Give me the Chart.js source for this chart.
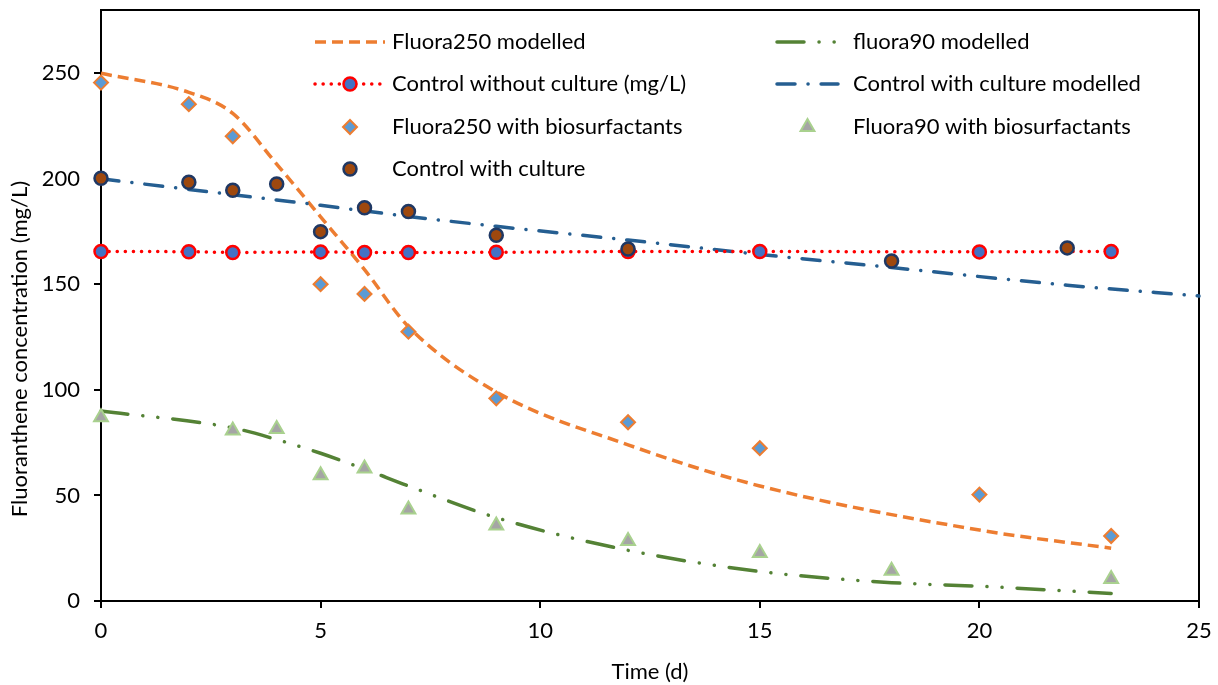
<!DOCTYPE html>
<html>
<head>
<meta charset="utf-8">
<script src="https://cdn.jsdelivr.net/npm/chart.js@4.4.1/dist/chart.umd.min.js"></script>
<style>
html, body { margin: 0; padding: 0; background: #fff; }
</style>
</head>
<body>
<canvas id="fluoChart" width="1218" height="685"></canvas>
<script>
// values (time in days, concentration in mg/L)
var tModel250 = [0, 2, 3, 4, 5, 6, 7, 9, 12, 15, 20, 23];
var fluora250Modelled = [250, 241, 231, 207, 182, 157, 130, 99, 74, 54.5, 33.6, 25];

var tModel90 = [0, 3, 4, 5, 6, 7, 9, 12, 15, 18, 20, 23];
var fluora90Modelled = [90, 82, 76.5, 70, 62.5, 54.5, 39.5, 24, 14, 8.7, 7, 3.6];

var tControl = [0, 2, 3, 5, 6, 7, 9, 12, 15, 20, 23];
var controlWithout = [165.6, 165.5, 165.1, 165.4, 165.1, 165.1, 165.2, 165.6, 165.6, 165.4, 165.6];

var tControlModel = [0, 2, 3, 4, 5, 6, 7, 9, 12, 15, 18, 22, 25];
var controlCultureModelled = [200, 195, 192.5, 190, 187.5, 184.8, 182.2, 177.5, 171, 164.2, 158, 149.6, 144.5];

var tFluora250 = [0, 2, 3, 5, 6, 7, 9, 12, 15, 20, 23];
var fluora250Bio = [245.6, 235.4, 220.2, 150.1, 145.5, 127.6, 96, 84.7, 72.4, 50.4, 30.8];

var tFluora90 = [0, 3, 4, 5, 6, 7, 9, 12, 15, 18, 23];
var fluora90Bio = [87, 80.8, 81.5, 59.6, 62.8, 43.4, 35.8, 28.4, 22.8, 14.3, 10.4];

var tCulture = [0, 2, 3, 4, 5, 6, 7, 9, 12, 18, 22];
var controlCulture = [200.3, 198.4, 194.6, 197.6, 175, 186.3, 184.5, 173.3, 166.8, 161.1, 167.3];

var seriesNames = [
    'Fluora250 modelled',
    'fluora90 modelled',
    'Control without culture (mg/L)',
    'Control with culture modelled',
    'Fluora250 with biosurfactants',
    'Fluora90 with biosurfactants',
    'Control with culture'
];
var xTicks = [0, 5, 10, 15, 20, 25];
var yTicks = [0, 50, 100, 150, 200, 250];

function pts(xs, ys) {
    return xs.map(function(x, i) { return { x: x, y: ys[i] }; });
}

var FONT = 'Lato, "Liberation Sans", sans-serif';
var FS = 22;
Chart.defaults.font.family = FONT;
Chart.defaults.font.size = FS;
Chart.defaults.color = '#000';

// legend drawn by hand so the two columns line up like the original
var legendPlugin = {
    id: 'twoColLegend',
    afterDraw: function(chart) {
        var ctx = chart.ctx;
        var slots = [
            { i: 0, x0: 315, x1: 385, y: 42, tx: 392 },
            { i: 2, x0: 315, x1: 385, y: 84, tx: 392 },
            { i: 4, x0: 315, x1: 385, y: 127, tx: 392 },
            { i: 6, x0: 315, x1: 385, y: 169, tx: 392 },
            { i: 1, x0: 777, x1: 838, y: 42, tx: 853 },
            { i: 3, x0: 777, x1: 838, y: 84, tx: 853 },
            { i: 5, x0: 777, x1: 838, y: 127, tx: 853 }
        ];
        slots.forEach(function(s) {
            var ds = chart.data.datasets[s.i];
            ctx.save();
            if (ds.showLine) {
                ctx.beginPath();
                ctx.strokeStyle = ds.borderColor;
                ctx.lineWidth = ds.borderWidth;
                ctx.lineCap = ds.borderCapStyle || 'butt';
                ctx.setLineDash(ds.borderDash || []);
                ctx.moveTo(s.x0, s.y);
                ctx.lineTo(s.x1, s.y);
                ctx.stroke();
            }
            if (ds.pointRadius > 0) {
                ctx.setLineDash([]);
                ctx.fillStyle = ds.pointBackgroundColor;
                ctx.strokeStyle = ds.pointBorderColor;
                ctx.lineWidth = ds.pointBorderWidth;
                Chart.helpers.drawPoint(ctx, {
                    pointStyle: ds.pointStyle,
                    radius: ds.pointRadius,
                    borderWidth: ds.pointBorderWidth,
                    rotation: 0
                }, (s.x0 + s.x1) / 2, s.y);
            }
            ctx.fillStyle = '#000';
            ctx.font = FS + 'px ' + FONT;
            ctx.textAlign = 'left';
            ctx.textBaseline = 'middle';
            ctx.fillText(ds.label, s.tx, s.y);
            ctx.restore();
        });

        // y axis title, centred a bit lower like the original
        ctx.save();
        ctx.translate(20, 349);
        ctx.rotate(-Math.PI / 2);
        ctx.fillStyle = '#000';
        ctx.font = FS + 'px ' + FONT;
        ctx.textAlign = 'center';
        ctx.textBaseline = 'middle';
        ctx.fillText('Fluoranthene concentration (mg/L)', 0, 0);
        ctx.restore();
    },
    beforeDatasetsDraw: function(chart) {
        var a = chart.chartArea;
        var ctx = chart.ctx;
        ctx.save();
        ctx.strokeStyle = '#000';
        ctx.lineWidth = 2;
        ctx.strokeRect(a.left, a.top, a.right - a.left, a.bottom - a.top);
        ctx.restore();
    }
};

var ctx = document.getElementById('fluoChart').getContext('2d');
var chart = new Chart(ctx, {
    type: 'scatter',
    data: {
        datasets: [
            {
                label: seriesNames[0],
                data: pts(tModel250, fluora250Modelled),
                showLine: true,
                borderColor: '#ED7D31',
                borderWidth: 3.5,
                borderDash: [11, 6],
                cubicInterpolationMode: 'monotone',
                pointRadius: 0,
                order: 5
            },
            {
                label: seriesNames[1],
                data: pts(tModel90, fluora90Modelled),
                showLine: true,
                borderColor: '#548235',
                borderWidth: 3.5,
                borderDash: [27, 15, 0.1, 15, 0.1, 15],
                borderCapStyle: 'round',
                cubicInterpolationMode: 'monotone',
                pointRadius: 0,
                order: 5
            },
            {
                label: seriesNames[2],
                data: pts(tControl, controlWithout),
                showLine: true,
                borderColor: '#FF0000',
                borderWidth: 3.5,
                borderDash: [0.1, 8],
                borderCapStyle: 'round',
                pointStyle: 'circle',
                pointRadius: 6.5,
                pointBackgroundColor: '#4472C4',
                pointBorderColor: '#FF0000',
                pointBorderWidth: 2.5,
                order: 3
            },
            {
                label: seriesNames[3],
                data: pts(tControlModel, controlCultureModelled),
                showLine: true,
                borderColor: '#255E91',
                borderWidth: 3.5,
                borderDash: [18, 13, 0.1, 13],
                borderCapStyle: 'round',
                cubicInterpolationMode: 'monotone',
                pointRadius: 0,
                order: 4
            },
            {
                label: seriesNames[4],
                data: pts(tFluora250, fluora250Bio),
                showLine: false,
                pointStyle: 'rectRot',
                pointRadius: 7,
                pointBackgroundColor: '#5B9BD5',
                pointBorderColor: '#ED7D31',
                pointBorderWidth: 2,
                order: 2
            },
            {
                label: seriesNames[5],
                data: pts(tFluora90, fluora90Bio),
                showLine: false,
                pointStyle: 'triangle',
                pointRadius: 8,
                pointBackgroundColor: '#A5A5A5',
                pointBorderColor: '#A9D18E',
                pointBorderWidth: 2,
                order: 2
            },
            {
                label: seriesNames[6],
                data: pts(tCulture, controlCulture),
                showLine: false,
                pointStyle: 'circle',
                pointRadius: 6.5,
                pointBackgroundColor: '#9E480E',
                pointBorderColor: '#1F3864',
                pointBorderWidth: 2.5,
                order: 1
            }
        ]
    },
    options: {
        responsive: false,
        animation: false,
        clip: false,
        layout: { padding: { top: 9, right: 19, left: 0, bottom: 0 } },
        plugins: {
            legend: { display: false },
            tooltip: { enabled: false }
        },
        scales: {
            x: {
                type: 'linear',
                min: 0,
                max: 25,
                afterBuildTicks: function(s) { s.ticks = xTicks.map(function(v) { return { value: v }; }); },
                ticks: { padding: 10, color: '#000', font: { size: FS } },
                grid: { drawOnChartArea: false, drawTicks: true, tickLength: 7, color: '#000', lineWidth: 2 },
                border: { display: true, color: '#000', width: 2 },
                title: { display: true, text: 'Time (d)', color: '#000', font: { size: FS }, padding: { top: 0, bottom: 0 } },
                afterFit: function(s) { s.height = 84; s.paddingLeft = 0; s.paddingRight = 0; }
            },
            y: {
                type: 'linear',
                min: 0,
                max: 280,
                afterBuildTicks: function(s) { s.ticks = yTicks.map(function(v) { return { value: v }; }); },
                ticks: { padding: 14, color: '#000', font: { size: FS } },
                grid: { drawOnChartArea: false, drawTicks: true, tickLength: 7, color: '#000', lineWidth: 2 },
                border: { display: true, color: '#000', width: 2 },
                title: { display: false },
                afterFit: function(s) { s.width = 101; s.paddingTop = 0; s.paddingBottom = 0; }
            }
        }
    },
    plugins: [legendPlugin]
});
</script>
</body>
</html>
